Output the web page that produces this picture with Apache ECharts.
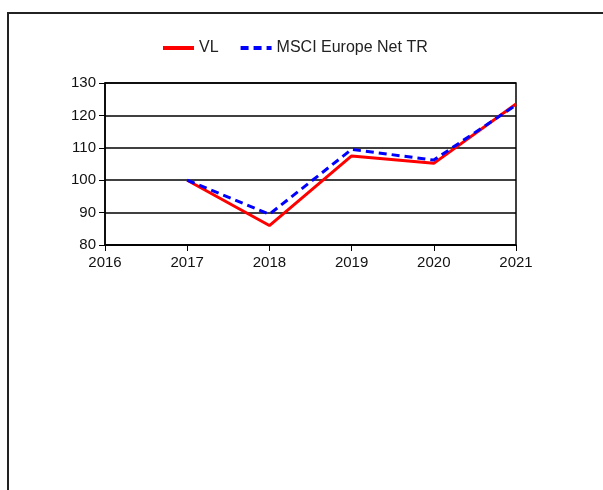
<!DOCTYPE html>
<html>
<head>
<meta charset="utf-8">
<script src="https://cdn.jsdelivr.net/npm/echarts@6/dist/echarts.min.js"></script>
<style>
html,body{margin:0;padding:0;background:#fff;}
#c{width:603px;height:490px;}
</style>
</head>
<body>
<div id="c"></div>
<script>
var years = [2017, 2018, 2019, 2020, 2021];
var vl = [100, 86, 107.5, 105.2, 123.5];
var msci = [100, 89.5, 109.5, 106.2, 123.2];
var seriesNames = ['VL', 'MSCI Europe Net TR'];

function pairs(xs, ys) { return xs.map(function (x, i) { return [x, ys[i]]; }); }

var chart = echarts.init(document.getElementById('c'), null, {renderer: 'canvas'});
var font = 'Liberation Sans, Arial, sans-serif';
chart.setOption({
  animation: false,
  backgroundColor: '#fff',
  graphic: [{
    type: 'rect', shape: {x: 8, y: 13, width: 700, height: 600},
    style: {fill: 'none', stroke: '#222', lineWidth: 2}, silent: true
  }],
  legend: {
    top: 35, left: 156,
    itemWidth: 31, itemHeight: 14, itemGap: 20,
    itemStyle: {opacity: 0},
    lineStyle: {width: 4},
    textStyle: {fontFamily: font, fontSize: 16, color: '#222'},
    data: seriesNames
  },
  grid: {
    left: 105, right: 87, top: 83, bottom: 245,
    show: true, borderColor: '#000', borderWidth: 1.5, backgroundColor: 'transparent'
  },
  xAxis: {
    type: 'value', min: 2016, max: 2021, interval: 1,
    axisLine: {show: true, lineStyle: {color: '#000', width: 1.5}},
    axisTick: {show: true, length: 6, lineStyle: {color: '#000'}},
    axisLabel: {color: '#111', fontFamily: font, fontSize: 15, margin: 10, formatter: function (v) { return String(v); }},
    splitLine: {show: false}
  },
  yAxis: {
    type: 'value', min: 80, max: 130, interval: 10,
    axisLine: {show: true, lineStyle: {color: '#000', width: 1.5}},
    axisTick: {show: true, length: 6, lineStyle: {color: '#000'}},
    axisLabel: {color: '#111', fontFamily: font, fontSize: 15, margin: 9},
    splitLine: {show: true, lineStyle: {color: '#000', width: 1.5}}
  },
  series: [{
    name: seriesNames[0], type: 'line', data: pairs(years, vl),
    symbol: 'none', lineStyle: {color: '#ff0000', width: 3}, itemStyle: {color: '#ff0000'}
  }, {
    name: seriesNames[1], type: 'line', data: pairs(years, msci),
    symbol: 'none', lineStyle: {color: '#0000ff', width: 3, type: [8, 5]}, itemStyle: {color: '#0000ff'}
  }]
});
</script>
</body>
</html>
